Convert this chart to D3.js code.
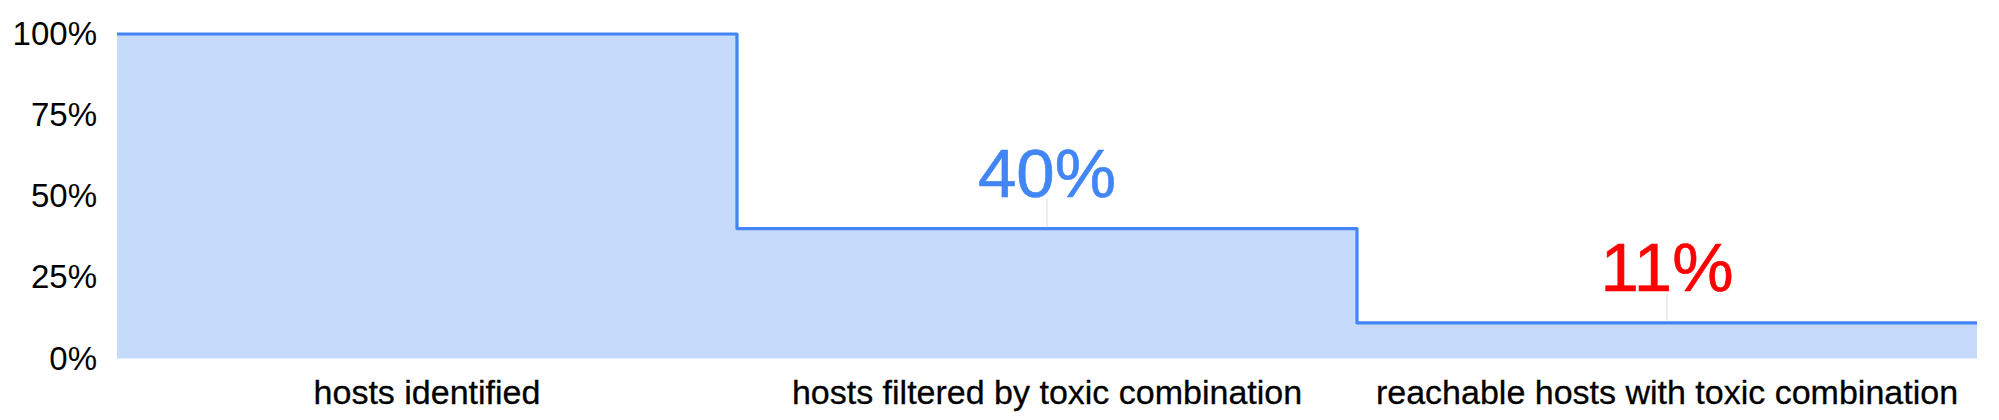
<!DOCTYPE html>
<html><head><meta charset="utf-8">
<script src="https://cdn.jsdelivr.net/npm/d3@7"></script>
<style>
html,body{margin:0;padding:0;background:#fff;}
svg{display:block;font-family:Arial,"Liberation Sans",sans-serif;}
</style></head>
<body>
<svg id="chart" width="1999" height="420"></svg>
<script>
const categories = ["hosts identified", "hosts filtered by toxic combination", "reachable hosts with toxic combination"];
const values = [1.00, 0.40, 0.11];
const annotations = [null, "40%", "11%"];
const annotationColors = [null, "#4285f4", "#ff0000"];
const yTicks = [0, 0.25, 0.5, 0.75, 1];

const svg = d3.select("#chart");
const x = d3.scaleBand().domain(categories).range([117, 1977]).padding(0);
const y = d3.scaleLinear().domain([0, 1]).range([358.5, 34]);

const pts = [];
categories.forEach((c, i) => {
  pts.push([x(c), values[i]]);
  pts.push([x(c) + x.bandwidth(), values[i]]);
});

svg.append("path")
  .attr("d", d3.area().x(d => d[0]).y0(y(0)).y1(d => y(d[1]))(pts))
  .attr("fill", "#c6dafc");

svg.append("path")
  .attr("d", d3.line().x(d => d[0]).y(d => y(d[1]))(pts))
  .attr("fill", "none")
  .attr("stroke", "#4285f4")
  .attr("stroke-width", 3.2)
  .attr("stroke-linejoin", "round");

const yAxis = d3.axisLeft(y).tickValues(yTicks).tickFormat(d3.format(".0%")).tickSize(0).tickPadding(0);
const ya = svg.append("g").attr("transform", "translate(97,0)").call(yAxis);
ya.select(".domain").remove();
ya.selectAll("text").attr("font-size", 33).attr("fill", "#000").attr("font-family", "Arial, 'Liberation Sans', sans-serif");

const xAxis = d3.axisBottom(x).tickSize(0).tickPadding(0);
const xa = svg.append("g").call(xAxis);
xa.select(".domain").remove();
xa.selectAll("text").attr("y", 404).attr("dy", null).attr("font-size", 34).attr("fill", "#000")
  .attr("stroke", "#000").attr("stroke-width", 0.3)
  .attr("font-family", "Arial, 'Liberation Sans', sans-serif");

categories.forEach((c, i) => {
  if (!annotations[i]) return;
  const cx = x(c) + x.bandwidth() / 2;
  const vy = y(values[i]);
  svg.append("line")
    .attr("x1", cx).attr("x2", cx)
    .attr("y1", vy - 1.5).attr("y2", vy - 30)
    .attr("stroke", "#dddddd").attr("stroke-width", 1);
  svg.append("text")
    .attr("x", cx).attr("y", vy - 32)
    .attr("text-anchor", "middle")
    .attr("font-size", 69)
    .attr("fill", annotationColors[i])
    .attr("stroke", annotationColors[i]).attr("stroke-width", 0.6)
    .text(annotations[i]);
});
</script>
</body></html>
